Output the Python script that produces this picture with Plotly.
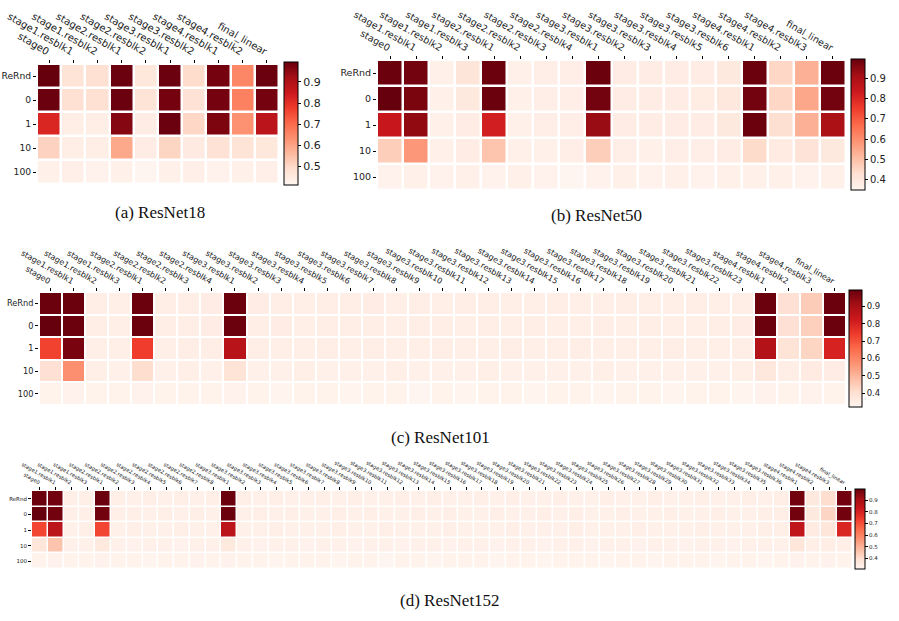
import plotly.graph_objects as go

W, H = 899, 621

ROWS = ["ReRnd", "0", "1", "10", "100"]

R18_COLS = ["stage0", "stage1.resblk1", "stage1.resblk2", "stage2.resblk1", "stage2.resblk2",
            "stage3.resblk1", "stage3.resblk2", "stage4.resblk1", "stage4.resblk2", "final_linear"]
R18_VALS = [
    [0.995, 0.47, 0.48, 0.99, 0.46, 0.99, 0.49, 0.98, 0.65, 0.99],
    [0.99, 0.48, 0.48, 0.99, 0.47, 0.98, 0.475, 0.98, 0.66, 0.98],
    [0.82, 0.435, 0.435, 0.96, 0.44, 0.99, 0.50, 0.97, 0.63, 0.88],
    [0.51, 0.435, 0.435, 0.59, 0.44, 0.505, 0.45, 0.475, 0.47, 0.46],
    [0.425, 0.43, 0.42, 0.425, 0.41, 0.425, 0.43, 0.42, 0.425, 0.43],
]

R50_COLS = ["stage0", "stage1.resblk1", "stage1.resblk2", "stage1.resblk3",
            "stage2.resblk1", "stage2.resblk2", "stage2.resblk3", "stage2.resblk4",
            "stage3.resblk1", "stage3.resblk2", "stage3.resblk3", "stage3.resblk4",
            "stage3.resblk5", "stage3.resblk6",
            "stage4.resblk1", "stage4.resblk2", "stage4.resblk3", "final_linear"]
R50_VALS = [
    [0.99, 0.98, 0.37, 0.41, 0.99, 0.37, 0.375, 0.375, 0.99, 0.38, 0.38, 0.38, 0.38, 0.395, 0.99, 0.45, 0.53, 0.99],
    [0.995, 0.97, 0.37, 0.395, 0.99, 0.37, 0.375, 0.375, 0.98, 0.38, 0.38, 0.38, 0.385, 0.40, 0.98, 0.45, 0.55, 0.98],
    [0.84, 0.94, 0.37, 0.38, 0.82, 0.37, 0.375, 0.375, 0.93, 0.38, 0.38, 0.38, 0.38, 0.395, 0.99, 0.43, 0.53, 0.90],
    [0.47, 0.58, 0.37, 0.38, 0.49, 0.37, 0.365, 0.375, 0.47, 0.375, 0.37, 0.375, 0.375, 0.38, 0.44, 0.39, 0.415, 0.395],
    [0.36, 0.365, 0.36, 0.365, 0.36, 0.365, 0.36, 0.35, 0.36, 0.365, 0.36, 0.365, 0.36, 0.365, 0.37, 0.365, 0.36, 0.365],
]

R101_COLS = ["stage0", "stage1.resblk1", "stage1.resblk2", "stage1.resblk3",
             "stage2.resblk1", "stage2.resblk2", "stage2.resblk3", "stage2.resblk4",
             "stage3.resblk1", "stage3.resblk2", "stage3.resblk3", "stage3.resblk4",
             "stage3.resblk5", "stage3.resblk6", "stage3.resblk7", "stage3.resblk8",
             "stage3.resblk9", "stage3.resblk10", "stage3.resblk11", "stage3.resblk12",
             "stage3.resblk13", "stage3.resblk14", "stage3.resblk15", "stage3.resblk16",
             "stage3.resblk17", "stage3.resblk18", "stage3.resblk19", "stage3.resblk20",
             "stage3.resblk21", "stage3.resblk22", "stage3.resblk23",
             "stage4.resblk1", "stage4.resblk2", "stage4.resblk3", "final_linear"]
R101_VALS = [
    [0.99, 0.99, 0.35, 0.345, 0.99, 0.35, 0.35, 0.355, 0.99,
     0.355, 0.35, 0.345, 0.35, 0.35, 0.355, 0.345, 0.35, 0.345, 0.35, 0.35,
     0.345, 0.345, 0.35, 0.345, 0.345, 0.35, 0.345, 0.345, 0.35, 0.345, 0.35,
     0.99, 0.40, 0.45, 0.99],
    [0.995, 0.99, 0.35, 0.345, 0.99, 0.35, 0.35, 0.355, 0.99,
     0.35, 0.355, 0.345, 0.35, 0.35, 0.35, 0.345, 0.35, 0.35, 0.345, 0.35,
     0.345, 0.35, 0.345, 0.345, 0.35, 0.345, 0.35, 0.345, 0.345, 0.35, 0.355,
     0.99, 0.40, 0.44, 0.99],
    [0.73, 0.97, 0.345, 0.345, 0.74, 0.345, 0.35, 0.35, 0.87,
     0.35, 0.345, 0.345, 0.35, 0.345, 0.35, 0.345, 0.345, 0.35, 0.345, 0.345,
     0.35, 0.345, 0.345, 0.35, 0.345, 0.345, 0.345, 0.35, 0.345, 0.345, 0.35,
     0.88, 0.39, 0.43, 0.80],
    [0.40, 0.58, 0.345, 0.34, 0.41, 0.34, 0.345, 0.34, 0.39,
     0.34, 0.34, 0.345, 0.34, 0.34, 0.34, 0.345, 0.34, 0.34, 0.34, 0.345,
     0.34, 0.34, 0.34, 0.34, 0.345, 0.34, 0.34, 0.34, 0.34, 0.34, 0.345,
     0.375, 0.35, 0.36, 0.355],
    [0.33, 0.335, 0.33, 0.33, 0.335, 0.33, 0.33, 0.33, 0.335,
     0.33, 0.325, 0.33, 0.33, 0.325, 0.33, 0.33, 0.32, 0.33, 0.325, 0.33,
     0.33, 0.325, 0.33, 0.33, 0.325, 0.33, 0.33, 0.325, 0.33, 0.33, 0.325,
     0.335, 0.33, 0.335, 0.33],
]

R152_COLS = ["stage0", "stage1.resblk1", "stage1.resblk2", "stage1.resblk3",
             "stage2.resblk1", "stage2.resblk2", "stage2.resblk3", "stage2.resblk4",
             "stage2.resblk5", "stage2.resblk6", "stage2.resblk7", "stage2.resblk8",
             "stage3.resblk1", "stage3.resblk2", "stage3.resblk3", "stage3.resblk4",
             "stage3.resblk5", "stage3.resblk6", "stage3.resblk7", "stage3.resblk8",
             "stage3.resblk9", "stage3.resblk10", "stage3.resblk11", "stage3.resblk12",
             "stage3.resblk13", "stage3.resblk14", "stage3.resblk15", "stage3.resblk16",
             "stage3.resblk17", "stage3.resblk18", "stage3.resblk19", "stage3.resblk20",
             "stage3.resblk21", "stage3.resblk22", "stage3.resblk23", "stage3.resblk24",
             "stage3.resblk25", "stage3.resblk26", "stage3.resblk27", "stage3.resblk28",
             "stage3.resblk29", "stage3.resblk30", "stage3.resblk31", "stage3.resblk32",
             "stage3.resblk33", "stage3.resblk34", "stage3.resblk35", "stage3.resblk36",
             "stage4.resblk1", "stage4.resblk2", "stage4.resblk3", "final_linear"]
R152_VALS = [
    [0.99, 0.98, 0.335, 0.335, 0.99, 0.335, 0.33, 0.335, 0.33, 0.335, 0.33, 0.335, 0.99,
     0.335, 0.33, 0.335, 0.33, 0.33, 0.335, 0.33, 0.335, 0.33, 0.33, 0.335, 0.33,
     0.335, 0.33, 0.33, 0.335, 0.33, 0.335, 0.33, 0.33, 0.335, 0.33, 0.33, 0.335,
     0.33, 0.33, 0.335, 0.33, 0.33, 0.335, 0.33, 0.33, 0.335, 0.33, 0.34,
     0.98, 0.36, 0.40, 0.98],
    [0.995, 0.98, 0.335, 0.335, 0.98, 0.335, 0.335, 0.33, 0.335, 0.33, 0.335, 0.33, 0.99,
     0.33, 0.335, 0.33, 0.335, 0.33, 0.33, 0.335, 0.33, 0.335, 0.33, 0.33, 0.335,
     0.33, 0.335, 0.33, 0.33, 0.335, 0.33, 0.33, 0.335, 0.33, 0.335, 0.33, 0.33,
     0.335, 0.33, 0.33, 0.335, 0.33, 0.33, 0.335, 0.33, 0.33, 0.335, 0.34,
     0.98, 0.36, 0.42, 0.98],
    [0.72, 0.86, 0.33, 0.335, 0.72, 0.33, 0.335, 0.33, 0.33, 0.335, 0.33, 0.33, 0.86,
     0.33, 0.33, 0.335, 0.33, 0.33, 0.33, 0.335, 0.33, 0.33, 0.335, 0.33, 0.33,
     0.33, 0.335, 0.33, 0.33, 0.33, 0.335, 0.33, 0.33, 0.33, 0.335, 0.33, 0.33,
     0.33, 0.335, 0.33, 0.33, 0.33, 0.335, 0.33, 0.33, 0.33, 0.335, 0.335,
     0.85, 0.35, 0.37, 0.79],
    [0.37, 0.46, 0.33, 0.33, 0.36, 0.33, 0.325, 0.33, 0.33, 0.325, 0.33, 0.33, 0.36,
     0.33, 0.325, 0.33, 0.33, 0.325, 0.33, 0.33, 0.325, 0.33, 0.33, 0.325, 0.33,
     0.33, 0.325, 0.33, 0.33, 0.325, 0.33, 0.33, 0.325, 0.33, 0.33, 0.325, 0.33,
     0.33, 0.325, 0.33, 0.33, 0.325, 0.33, 0.33, 0.325, 0.33, 0.33, 0.33,
     0.37, 0.335, 0.34, 0.335],
    [0.32, 0.325, 0.32, 0.32, 0.325, 0.32, 0.32, 0.315, 0.32, 0.32, 0.325, 0.32, 0.325,
     0.32, 0.32, 0.315, 0.32, 0.32, 0.32, 0.315, 0.32, 0.32, 0.31, 0.32, 0.32,
     0.315, 0.32, 0.32, 0.32, 0.315, 0.32, 0.32, 0.315, 0.32, 0.32, 0.32, 0.315,
     0.32, 0.32, 0.315, 0.32, 0.32, 0.32, 0.315, 0.32, 0.32, 0.315, 0.32,
     0.325, 0.32, 0.325, 0.32],
]

CAPTIONS = ["(a) ResNet18", "(b) ResNet50", "(c) ResNet101", "(d) ResNet152"]

REDS = [[0.0, "#fff5f0"], [0.125, "#fee0d2"], [0.25, "#fcbba1"], [0.375, "#fc9272"],
        [0.5, "#fb6a4a"], [0.625, "#ef3b2c"], [0.75, "#cb181d"], [0.875, "#a50f15"],
        [1.0, "#67000d"]]

# panel geometry in pixels: (x0, x1, y0, y1), colorbar (x0, x1, y0, y1)
panels = [
    dict(cols=R18_COLS, vals=R18_VALS, cell=(37, 279, 64, 184), cb=(284, 298, 62, 185),
         gap=2.5, xfs=10, yfs=9.2, cbfs=11, cap=(160, 213)),
    dict(cols=R50_COLS, vals=R50_VALS, cell=(377, 846, 60, 190), cb=(851, 865, 59, 190),
         gap=2.5, xfs=9.5, yfs=9.5, cbfs=10, cap=(596, 215)),
    dict(cols=R101_COLS, vals=R101_VALS, cell=(39, 846, 292, 405), cb=(849, 862, 290, 407),
         gap=2, xfs=8, yfs=8.2, cbfs=8.5, cap=(440, 437)),
    dict(cols=R152_COLS, vals=R152_VALS, cell=(32, 853, 491, 569), cb=(855, 865, 489, 569),
         gap=1.5, xfs=5.2, yfs=5.5, cbfs=5.5, cap=(450, 600)),
]

fig = go.Figure()
layout = {}
annotations = []
for i, p in enumerate(panels):
    n = i + 1
    xa = "x" if n == 1 else f"x{n}"
    ya = "y" if n == 1 else f"y{n}"
    x0, x1, y0, y1 = p["cell"]
    c0, c1, d0, d1 = p["cb"]
    fig.add_trace(go.Heatmap(
        z=p["vals"], x=p["cols"], y=ROWS, xaxis=xa, yaxis=ya,
        colorscale=REDS, xgap=p["gap"], ygap=p["gap"],
        colorbar=dict(x=c0 / W, xanchor="left", xpad=0, ypad=0,
                      y=1 - d0 / H, yanchor="top", len=(d1 - d0) / H, lenmode="fraction",
                      thickness=c1 - c0, thicknessmode="pixels",
                      outlinewidth=1, outlinecolor="black",
                      ticks="outside", ticklen=3, tickwidth=1, tickcolor="black",
                      tick0=0, dtick=0.1, tickformat=".1f",
                      tickfont=dict(size=p["cbfs"], family="DejaVu Sans", color="#222")),
        hoverongaps=False,
    ))
    layout["xaxis" if n == 1 else f"xaxis{n}"] = dict(
        domain=[x0 / W, x1 / W], anchor=ya, side="top", type="category", automargin=False,
        tickangle=30, ticks="outside", ticklen=3, tickwidth=1, tickcolor="black",
        showgrid=False, zeroline=False, showline=False,
        tickfont=dict(size=p["xfs"], family="DejaVu Sans", color="#222"),
    )
    layout["yaxis" if n == 1 else f"yaxis{n}"] = dict(
        domain=[1 - y1 / H, 1 - y0 / H], anchor=xa, type="category", autorange="reversed",
        automargin=False,
        ticks="outside", ticklen=3, tickwidth=1, tickcolor="black",
        showgrid=False, zeroline=False, showline=False,
        tickfont=dict(size=p["yfs"], family="DejaVu Sans", color="#222"),
    )
    annotations.append(dict(text=CAPTIONS[i], x=p["cap"][0] / W, y=1 - p["cap"][1] / H,
                            xref="paper", yref="paper", showarrow=False,
                            xanchor="center", yanchor="middle",
                            font=dict(size=17, family="Liberation Serif", color="#111")))

fig.update_layout(width=W, height=H, margin=dict(l=0, r=0, t=0, b=0, autoexpand=False),
                  paper_bgcolor="white", plot_bgcolor="white",
                  annotations=annotations, **layout)
fig.write_html("out.html", config={"displayModeBar": False},
               post_script="document.body.style.margin='0px';document.body.style.overflow='hidden';")
